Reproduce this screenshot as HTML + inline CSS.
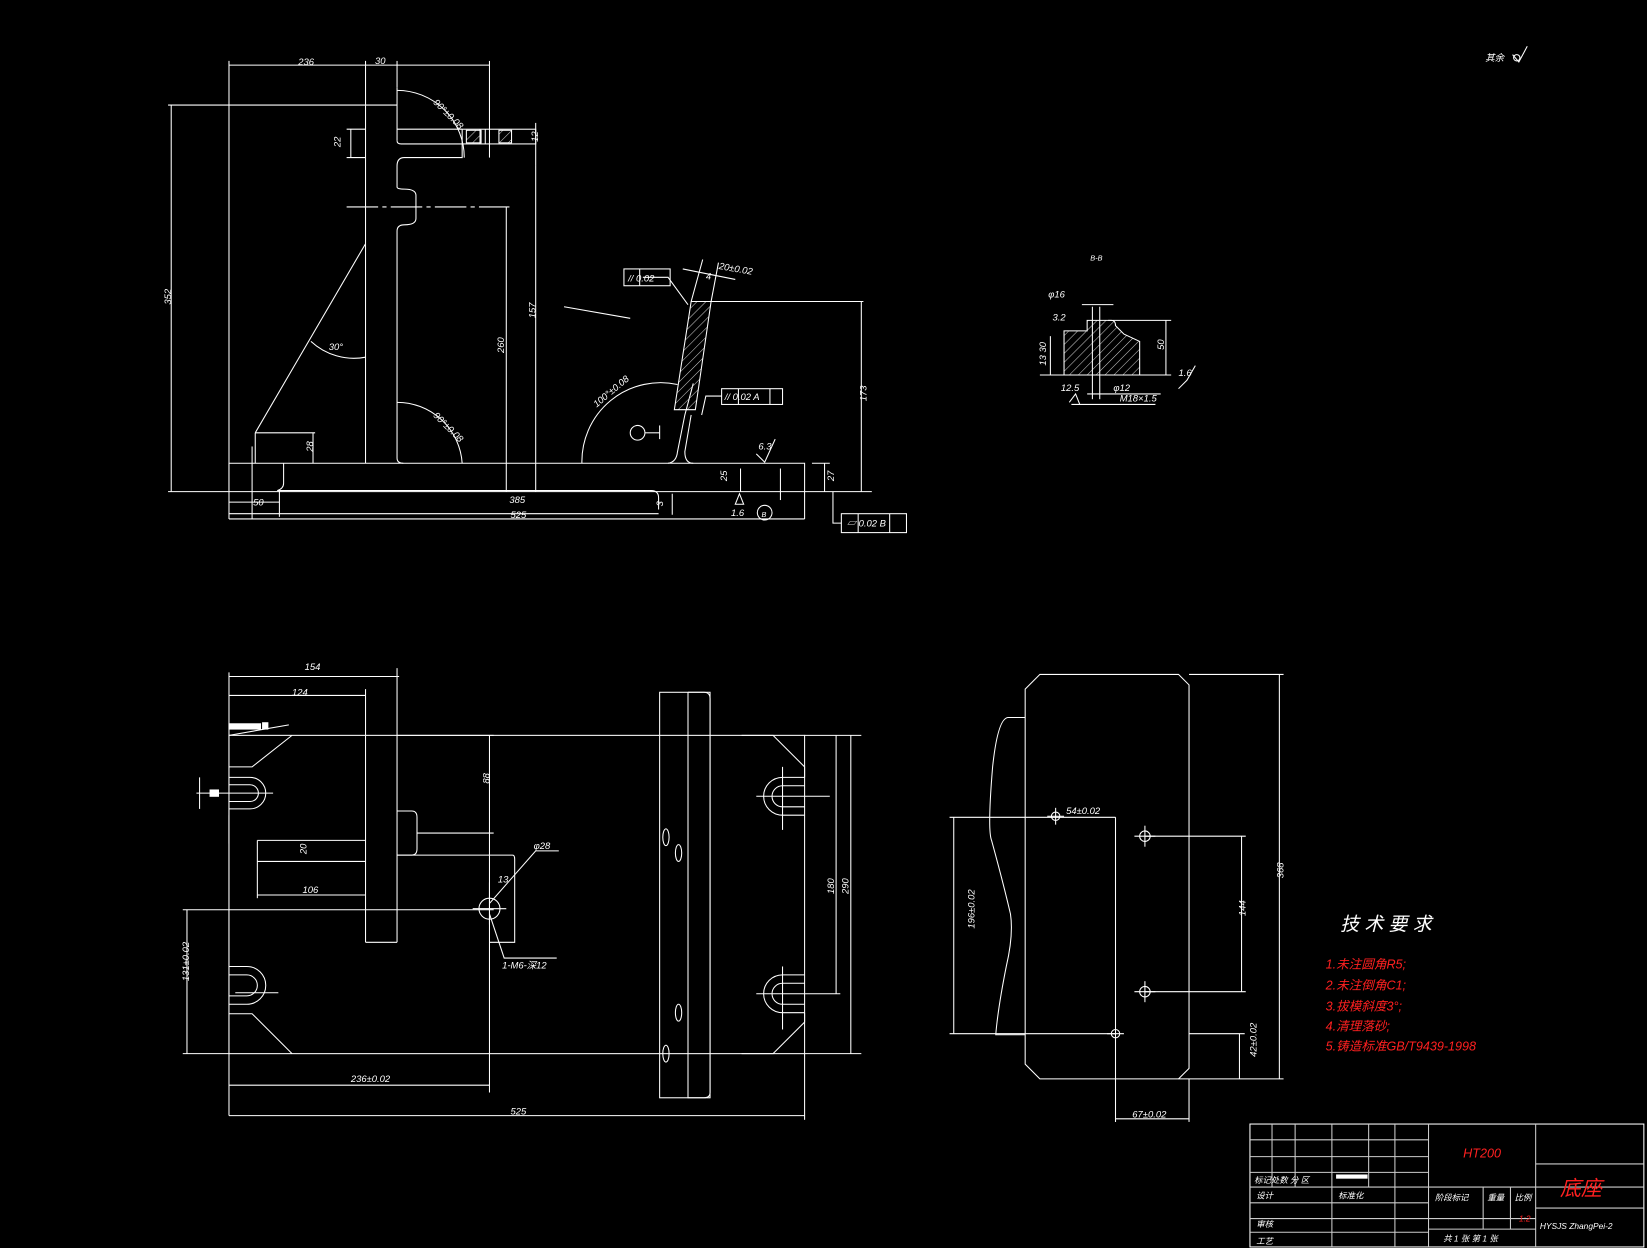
<!DOCTYPE html>
<html><head><meta charset="utf-8"><style>
html,body{margin:0;padding:0;background:#000;}
svg{display:block;}
text{font-family:"Liberation Sans","Noto Sans CJK SC",sans-serif;fill:#fff;font-style:italic;}
</style></head><body>
<svg width="1647" height="1248" viewBox="0 0 1568 1188" preserveAspectRatio="none" xmlns="http://www.w3.org/2000/svg">
<defs>
<pattern id="h" width="6" height="6" patternUnits="userSpaceOnUse" patternTransform="rotate(45)">
<line x1="0" y1="0" x2="0" y2="6" stroke="#ccc" stroke-width="1"/>
</pattern>
</defs>
<rect width="1568" height="1188" fill="#000"/>
<g stroke="#fff" stroke-width="1" fill="none">
<line x1="218" y1="62" x2="466" y2="62"/>
<line x1="218" y1="58" x2="218" y2="494"/>
<line x1="348" y1="58" x2="348" y2="441"/>
<line x1="378" y1="58" x2="378" y2="83"/>
<line x1="466" y1="58" x2="466" y2="150"/>
<line x1="160" y1="100" x2="378" y2="100"/>
<line x1="163" y1="100" x2="163" y2="468"/>
<line x1="160" y1="468" x2="830" y2="468"/>
<line x1="378" y1="83" x2="378" y2="134"/>
<path d="M378,134 Q378,137 382,137 L440,137 L440,150 L385,150 Q378,150 378,158 L378,178 Q378,180 385,180 Q396,180 396,186 L396,208 Q396,214 385,214 Q378,214 378,220 L378,436 Q378,441 384,441"/>
<line x1="378" y1="123" x2="440" y2="123"/>
<line x1="348" y1="123" x2="330" y2="123"/><line x1="348" y1="150" x2="330" y2="150"/>
<line x1="334" y1="123" x2="334" y2="150"/>
<rect x="440" y="123" width="70" height="14"/>
<rect x="444" y="124" width="14" height="12" fill="url(#h)"/>
<line x1="457" y1="123" x2="457" y2="137"/><line x1="462" y1="123" x2="462" y2="137"/>
<rect x="475" y="124" width="12" height="12" fill="url(#h)"/>
<line x1="510" y1="117" x2="510" y2="158"/>
<path d="M378,86 A64,64 0 0 1 442,150"/>
<line x1="330" y1="197" x2="485" y2="197" stroke-dasharray="30,4,4,4"/>
<line x1="482" y1="197" x2="482" y2="468"/>
<line x1="510" y1="158" x2="510" y2="468"/>
<line x1="348" y1="232" x2="243" y2="412"/>
<line x1="243" y1="412" x2="243" y2="441"/>
<line x1="243" y1="412" x2="300" y2="412"/>
<line x1="298" y1="412" x2="298" y2="441"/>
<path d="M296,325 A60,60 0 0 0 348,340"/>
<path d="M378,383 A62,62 0 0 1 440,441"/>
<path d="M218,441 L766,441 L766,494 M218,441 L218,467"/>
<line x1="240" y1="425" x2="240" y2="494"/>
<path d="M270,441 L270,460 Q270,465 264,467"/>
<path d="M264,467 L620,467 Q627,467 627,474 L627,485"/>
<line x1="218" y1="489" x2="627" y2="489"/>
<line x1="218" y1="478" x2="266" y2="478"/>
<line x1="218" y1="494" x2="766" y2="494"/>
<line x1="266" y1="467" x2="266" y2="492"/>
<line x1="640" y1="470" x2="640" y2="490"/>
<line x1="705" y1="446" x2="705" y2="468"/>
<line x1="743" y1="446" x2="743" y2="476"/>
<line x1="785" y1="441" x2="785" y2="468"/>
<line x1="773" y1="441" x2="790" y2="441"/>
<path d="M636,441 Q644,440 645,430 L652,395 L660,365"/>
<path d="M660,441 Q652,441 652,430 L658,395"/>
<polygon points="658,287 677,287 662,390 642,390" fill="url(#h)"/>
<line x1="658" y1="287" x2="669" y2="247"/><line x1="677" y1="287" x2="684" y2="250"/>
<line x1="650" y1="256" x2="700" y2="266"/>
<line x1="677" y1="287" x2="822" y2="287"/>
<line x1="820" y1="287" x2="820" y2="468"/>
<path d="M554,441 A75,75 0 0 1 645,366"/>
<line x1="537" y1="292" x2="600" y2="303"/>
<polyline points="612,264 636,264 655,290"/>
<polyline points="687,377 672,377 668,395"/>
<circle cx="607" cy="412" r="7"/>
<line x1="614" y1="412" x2="628" y2="412"/><line x1="628" y1="405" x2="628" y2="418"/>
<rect x="594" y="256" width="44" height="16"/><line x1="609" y1="256" x2="609" y2="272"/>
<rect x="687" y="370" width="58" height="15"/><line x1="703" y1="370" x2="703" y2="385"/><line x1="733" y1="370" x2="733" y2="385"/>
<rect x="801" y="489" width="62" height="18"/><line x1="817" y1="489" x2="817" y2="507"/><line x1="847" y1="489" x2="847" y2="507"/>
<polyline points="801,498 793,498 793,468"/>
<polygon points="700,480 708,480 704,470"/>
<circle cx="728" cy="488" r="7"/>
<polyline points="720,432 728,440 738,418"/>
<path d="M1013,315 L1035,315 L1035,305 L1058,305 Q1062,305 1062,310 L1070,318 L1085,325 L1085,357 L1013,357 Z" fill="url(#h)"/>
<line x1="1040" y1="292" x2="1040" y2="380"/><line x1="1047" y1="292" x2="1047" y2="380"/>
<line x1="1030" y1="290" x2="1060" y2="290"/>
<line x1="990" y1="357" x2="1038" y2="357"/>
<line x1="1055" y1="305" x2="1115" y2="305"/><line x1="1110" y1="305" x2="1110" y2="357"/>
<line x1="1085" y1="357" x2="1115" y2="357"/>
<line x1="1035" y1="375" x2="1105" y2="375"/>
<line x1="1020" y1="385" x2="1100" y2="385"/>
<line x1="1000" y1="320" x2="1000" y2="357"/>
<polyline points="1122,370 1130,362 1138,348"/>
<polyline points="1018,383 1024,375 1028,385"/>
<rect x="218" y="700" width="548" height="303"/>
<line x1="218" y1="640" x2="218" y2="1062"/>
<line x1="218" y1="644" x2="380" y2="644"/><line x1="378" y1="636" x2="378" y2="897"/>
<line x1="218" y1="662" x2="348" y2="662"/><line x1="348" y1="656" x2="348" y2="897"/>
<line x1="348" y1="897" x2="378" y2="897"/>
<path d="M378,772 L392,772 Q397,772 397,778 L397,808 Q397,814 392,814 L378,814"/>
<line x1="397" y1="793" x2="470" y2="793"/>
<line x1="378" y1="700" x2="470" y2="700"/>
<line x1="466" y1="700" x2="466" y2="1040"/>
<line x1="245" y1="800" x2="348" y2="800"/><line x1="245" y1="820" x2="348" y2="820"/>
<line x1="245" y1="800" x2="245" y2="855"/>
<line x1="245" y1="852" x2="348" y2="852"/>
<path d="M378,814 L488,814 Q490,814 490,818 L490,897 L466,897"/>
<circle cx="466" cy="865" r="10"/>
<line x1="450" y1="865" x2="482" y2="865"/><line x1="466" y1="840" x2="466" y2="880"/>
<polyline points="466,870 480,912 530,912"/>
<polyline points="466,860 510,810 532,810"/>
<line x1="174" y1="866" x2="470" y2="866"/>
<line x1="174" y1="1003" x2="218" y2="1003"/>
<line x1="178" y1="866" x2="178" y2="1003"/>
<line x1="218" y1="1033" x2="466" y2="1033"/>
<line x1="218" y1="1062" x2="766" y2="1062"/>
<line x1="766" y1="1003" x2="766" y2="1066"/>
<path d="M218,920 L235,920 A18,18 0 0 1 235,956 L218,956"/>
<path d="M218,928 L235,928 A10,10 0 0 1 235,948 L218,948"/>
<polyline points="218,965 240,965 278,1003"/>
<line x1="224" y1="945" x2="265" y2="945"/>
<path d="M218,740 L238,740 A15,15 0 0 1 238,770 L218,770"/>
<path d="M218,747 L238,747 A8,8 0 0 1 238,763 L218,763"/>
<polyline points="218,730 240,730 278,700"/>
<line x1="187" y1="755" x2="260" y2="755"/>
<line x1="190" y1="740" x2="190" y2="770"/>
<rect x="200" y="752" width="8" height="6" fill="#fff"/>
<rect x="218" y="689" width="30" height="5" fill="#fff"/>
<rect x="250" y="688" width="5" height="6" fill="#fff"/>
<line x1="218" y1="700" x2="275" y2="690"/>
<line x1="218" y1="776" x2="218" y2="803"/>
<rect x="628" y="659" width="48" height="386"/>
<path d="M655,659 L670,659 Q676,659 676,665 L676,1040 Q676,1045 670,1045 L655,1045 L655,659"/>
<ellipse cx="634" cy="797" rx="3" ry="8"/><ellipse cx="646" cy="812" rx="3" ry="8"/>
<ellipse cx="646" cy="964" rx="3" ry="8"/><ellipse cx="634" cy="1003" rx="3" ry="8"/>
<polyline points="706,700 736,700 766,730 766,740"/>
<path d="M766,740 L745,740 A18,18 0 0 0 745,776 L766,776"/>
<path d="M766,748 L745,748 A10,10 0 0 0 745,768 L766,768"/>
<path d="M766,928 L745,928 A18,18 0 0 0 745,964 L766,964"/>
<path d="M766,936 L745,936 A10,10 0 0 0 745,956 L766,956"/>
<polyline points="766,964 766,973 736,1003 706,1003"/>
<line x1="720" y1="758" x2="790" y2="758"/><line x1="745" y1="730" x2="745" y2="790"/>
<line x1="720" y1="946" x2="800" y2="946"/><line x1="745" y1="920" x2="745" y2="980"/>
<line x1="766" y1="700" x2="820" y2="700"/><line x1="810" y1="700" x2="810" y2="1003"/>
<line x1="766" y1="1003" x2="820" y2="1003"/>
<line x1="796" y1="700" x2="796" y2="946"/>
<path d="M990,642 L1122,642 L1132,652 L1132,1017 L1122,1027 L990,1027 L976,1013 L976,656 Z"/>
<line x1="1132" y1="642" x2="1222" y2="642"/><line x1="1218" y1="642" x2="1218" y2="1027"/>
<line x1="1122" y1="1027" x2="1222" y2="1027"/>
<path d="M976,683 L960,683 Q950,683 945,730 Q940,790 944,800 Q955,840 962,870 Q965,890 958,920 Q950,960 948,985 L976,985"/>
<line x1="904" y1="778" x2="1062" y2="778"/><line x1="908" y1="778" x2="908" y2="984"/>
<line x1="904" y1="984" x2="1062" y2="984"/>
<line x1="1062" y1="778" x2="1062" y2="1068"/>
<line x1="1132" y1="1068" x2="1132" y2="1027"/>
<line x1="1062" y1="1065" x2="1132" y2="1065"/>
<line x1="1180" y1="984" x2="1180" y2="1027"/><line x1="1132" y1="984" x2="1185" y2="984"/>
<line x1="1090" y1="796" x2="1186" y2="796"/><line x1="1090" y1="944" x2="1186" y2="944"/>
<line x1="1182" y1="796" x2="1182" y2="944"/>
<circle cx="1005" cy="777" r="4"/><line x1="997" y1="777" x2="1013" y2="777"/><line x1="1005" y1="769" x2="1005" y2="785"/>
<circle cx="1090" cy="796" r="5"/><line x1="1080" y1="796" x2="1100" y2="796"/><line x1="1090" y1="786" x2="1090" y2="806"/>
<circle cx="1090" cy="944" r="5"/><line x1="1080" y1="944" x2="1100" y2="944"/><line x1="1090" y1="934" x2="1090" y2="954"/>
<circle cx="1062" cy="984" r="4"/><line x1="1054" y1="984" x2="1070" y2="984"/>
<polyline points="1440,52 1446,59 1454,44"/>
<circle cx="1444" cy="55" r="3"/>
<rect x="1190" y="1070" width="375" height="117"/>
<g stroke="#ccc">
<line x1="1190" y1="1085" x2="1360" y2="1085"/><line x1="1190" y1="1101" x2="1360" y2="1101"/>
<line x1="1190" y1="1116" x2="1360" y2="1116"/><line x1="1190" y1="1130" x2="1565" y2="1130"/>
<line x1="1190" y1="1145" x2="1360" y2="1145"/><line x1="1190" y1="1160" x2="1462" y2="1160"/>
<line x1="1190" y1="1173" x2="1360" y2="1173"/>
<line x1="1211" y1="1070" x2="1211" y2="1130"/><line x1="1233" y1="1070" x2="1233" y2="1130"/>
<line x1="1268" y1="1070" x2="1268" y2="1187"/><line x1="1303" y1="1070" x2="1303" y2="1130"/>
<line x1="1328" y1="1070" x2="1328" y2="1187"/><line x1="1360" y1="1070" x2="1360" y2="1187"/>
<line x1="1462" y1="1070" x2="1462" y2="1187"/><line x1="1462" y1="1108" x2="1565" y2="1108"/>
<line x1="1462" y1="1150" x2="1565" y2="1150"/>
<line x1="1412" y1="1130" x2="1412" y2="1170"/><line x1="1438" y1="1130" x2="1438" y2="1170"/>
<line x1="1360" y1="1170" x2="1462" y2="1170"/>
</g>
</g>
<rect x="1272" y="1118" width="30" height="4" fill="#fff"/>
<g font-size="9">
<text x="284" y="62">236</text><text x="357" y="61">30</text>
<text x="158" y="295" transform="rotate(-90 158 290)">352</text>
<text x="320" y="140" transform="rotate(-90 322 138)">22</text>
<text x="508" y="135" transform="rotate(-90 510 133)">12</text>
<text x="412" y="98" transform="rotate(45 412 98)">90°±0.08</text>
<text x="412" y="396" transform="rotate(45 412 396)">90°±0.08</text>
<text x="313" y="333">30°</text>
<text x="476" y="340" transform="rotate(-90 476 336)">260</text>
<text x="508" y="305" transform="rotate(-90 508 303)">157</text>
<text x="296" y="432" transform="rotate(-90 296 430)">28</text>
<text x="241" y="481">50</text><text x="485" y="479">385</text><text x="486" y="493">525</text>
<text x="628" y="485" transform="rotate(-90 628 482)">3</text>
<text x="686" y="460" transform="rotate(-90 688 456)">25</text>
<text x="788" y="460" transform="rotate(-90 790 456)">27</text>
<text x="818" y="385" transform="rotate(-90 820 380)">173</text>
<text x="684" y="256" transform="rotate(10 684 256)">20±0.02</text>
<text x="672" y="266">4</text>
<text x="598" y="268">//  0.02</text>
<text x="690" y="381">//  0.02  A</text>
<text x="806" y="501">▱  0.02  B</text>
<text x="568" y="388" transform="rotate(-40 568 388)">100°±0.08</text>
<text x="722" y="428">6.3</text><text x="696" y="491">1.6</text>
<text x="725" y="492" font-size="7">B</text>
<text x="1038" y="248" font-size="7">B-B</text>
<text x="998" y="283">φ16</text><text x="1002" y="305">3.2</text>
<text x="992" y="348" transform="rotate(-90 994 346)">13 30</text>
<text x="1106" y="335" transform="rotate(-90 1106 333)">50</text>
<text x="1060" y="372">φ12</text><text x="1066" y="382">M18×1.5</text>
<text x="1010" y="372">12.5</text><text x="1122" y="358">1.6</text>
<text x="1414" y="58">其余</text>
<text x="290" y="638">154</text><text x="278" y="662">124</text>
<text x="462" y="750" transform="rotate(-90 462 746)">88</text>
<text x="288" y="817" transform="rotate(-90 288 813)">20</text>
<text x="288" y="850">106</text>
<text x="474" y="840">13</text><text x="508" y="808">φ28</text>
<text x="478" y="922">1-M6-深12</text>
<text x="174" y="940" transform="rotate(-90 174 934)">131±0.02</text>
<text x="334" y="1030">236±0.02</text><text x="486" y="1061">525</text>
<text x="790" y="855" transform="rotate(-90 790 851)">180</text>
<text x="804" y="855" transform="rotate(-90 804 851)">290</text>
<text x="1015" y="775">54±0.02</text>
<text x="904" y="908" transform="rotate(-90 904 884)">196±0.02</text>
<text x="1180" y="878" transform="rotate(-90 1180 872)">144</text>
<text x="1216" y="842" transform="rotate(-90 1216 836)">368</text>
<text x="1180" y="1022" transform="rotate(-90 1180 1006)">42±0.02</text>
<text x="1078" y="1064">67±0.02</text>
<text x="1194" y="1126" font-size="8">标记处数 分  区</text>
<text x="1196" y="1141" font-size="8">设计</text><text x="1274" y="1141" font-size="8">标准化</text>
<text x="1366" y="1143" font-size="8">阶段标记</text><text x="1416" y="1143" font-size="8">重量</text><text x="1442" y="1143" font-size="8">比例</text>
<text x="1196" y="1168" font-size="8">审核</text><text x="1196" y="1184" font-size="8">工艺</text>
<text x="1374" y="1182" font-size="8">共 1 张  第 1 张</text>
<text x="1466" y="1170" font-size="8">HYSJS ZhangPei-2</text>
</g>
<text x="1276" y="886" font-size="18">技 术 要 求</text>
<g font-size="12">
<text x="1262" y="922" style="fill:#ff2020">1.未注圆角R5;</text>
<text x="1262" y="942" style="fill:#ff2020">2.未注倒角C1;</text>
<text x="1262" y="962" style="fill:#ff2020">3.拔模斜度3°;</text>
<text x="1262" y="981" style="fill:#ff2020">4.清理落砂;</text>
<text x="1262" y="1000" style="fill:#ff2020">5.铸造标准GB/T9439-1998</text>
<text x="1393" y="1102" style="fill:#ff2020" font-size="12">HT200</text>
<text x="1485" y="1138" style="fill:#ff2020" font-size="20">底座</text>
<text x="1446" y="1163" style="fill:#ff2020" font-size="8">1:2</text>
</g>
</svg>
</body></html>
